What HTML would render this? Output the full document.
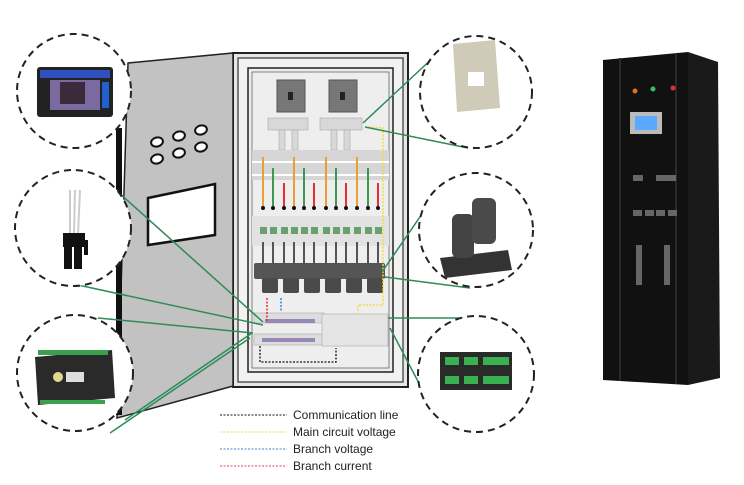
<!DOCTYPE html>
<html><head><meta charset="utf-8"><style>
html,body{margin:0;padding:0;background:#fff;}
svg{display:block;}
text{font-family:"Liberation Sans",sans-serif;font-size:12px;fill:#222;}
</style></head><body>
<svg width="744" height="485" viewBox="0 0 744 485" xmlns="http://www.w3.org/2000/svg">
<rect width="744" height="485" fill="#fff"/>
<!-- Cabinet body -->
<rect x="233" y="53" width="175" height="334" fill="#e6e6e6" stroke="#222" stroke-width="2"/>
<rect x="238" y="58" width="165" height="324" fill="#f2f2f2" stroke="#333" stroke-width="1.2"/>
<rect x="248" y="68" width="145" height="304" fill="#ececec" stroke="#222" stroke-width="1.5"/>
<rect x="252" y="72" width="137" height="296" fill="#eeeeee" stroke="#666" stroke-width="0.8"/>
<!-- door -->
<polygon points="128,63 233,53 233,386 117,418" fill="#c2c2c2" stroke="#222" stroke-width="1.5"/>
<rect x="116" y="128" width="6" height="92" fill="#111"/>
<rect x="116" y="260" width="6" height="155" fill="#111"/>
<g fill="#fff" stroke="#111" stroke-width="2">
<ellipse cx="157" cy="142" rx="6" ry="4.5" transform="rotate(-15 157 142)"/>
<ellipse cx="179" cy="136" rx="6" ry="4.5" transform="rotate(-15 179 136)"/>
<ellipse cx="201" cy="130" rx="6" ry="4.5" transform="rotate(-15 201 130)"/>
<ellipse cx="157" cy="159" rx="6" ry="4.5" transform="rotate(-15 157 159)"/>
<ellipse cx="179" cy="153" rx="6" ry="4.5" transform="rotate(-15 179 153)"/>
<ellipse cx="201" cy="147" rx="6" ry="4.5" transform="rotate(-15 201 147)"/>
</g>
<polygon points="148,198 215,184 215,235 148,245" fill="#fff" stroke="#111" stroke-width="2.5"/>
<!-- meters -->
<rect x="277" y="80" width="28" height="32" fill="#777" stroke="#555"/>
<rect x="288" y="92" width="5" height="8" fill="#222"/>
<rect x="329" y="80" width="28" height="32" fill="#777" stroke="#555"/>
<rect x="340" y="92" width="5" height="8" fill="#222"/>
<g fill="#d8d8d8" stroke="#aaa" stroke-width="0.6">
<rect x="268" y="118" width="40" height="12"/><rect x="320" y="118" width="42" height="12"/>
<rect x="279" y="130" width="6" height="20"/><rect x="292" y="130" width="6" height="20"/>
<rect x="331" y="130" width="6" height="20"/><rect x="344" y="130" width="6" height="20"/>
</g>
<!-- busbar band -->
<rect x="252" y="150" width="137" height="30" fill="#d6d6d6"/>
<rect x="252" y="161" width="137" height="2" fill="#fff"/>
<rect x="252" y="174" width="137" height="2" fill="#fff"/>
<!-- wires -->
<g stroke-width="2">
<line x1="263" y1="157" x2="263" y2="208" stroke="#e8a030"/>
<line x1="273" y1="168" x2="273" y2="208" stroke="#3a9a50"/>
<line x1="284" y1="183" x2="284" y2="208" stroke="#e03030"/>
<line x1="294" y1="157" x2="294" y2="208" stroke="#e8a030"/>
<line x1="304" y1="168" x2="304" y2="208" stroke="#3a9a50"/>
<line x1="314" y1="183" x2="314" y2="208" stroke="#e03030"/>
<line x1="326" y1="157" x2="326" y2="208" stroke="#e8a030"/>
<line x1="336" y1="168" x2="336" y2="208" stroke="#3a9a50"/>
<line x1="346" y1="183" x2="346" y2="208" stroke="#e03030"/>
<line x1="357" y1="157" x2="357" y2="208" stroke="#e8a030"/>
<line x1="368" y1="168" x2="368" y2="208" stroke="#3a9a50"/>
<line x1="378" y1="183" x2="378" y2="208" stroke="#e03030"/>
</g>
<g fill="#111">
<circle cx="263" cy="208" r="2"/><circle cx="273" cy="208" r="2"/><circle cx="284" cy="208" r="2"/><circle cx="294" cy="208" r="2"/><circle cx="304" cy="208" r="2"/><circle cx="314" cy="208" r="2"/><circle cx="326" cy="208" r="2"/><circle cx="336" cy="208" r="2"/><circle cx="346" cy="208" r="2"/><circle cx="357" cy="208" r="2"/><circle cx="368" cy="208" r="2"/><circle cx="378" cy="208" r="2"/>
</g>
<!-- breakers -->
<rect x="252" y="216" width="137" height="30" fill="#e2e2e2"/>
<g fill="#6aa070">
<rect x="260" y="227" width="7" height="7"/><rect x="270" y="227" width="7" height="7"/><rect x="281" y="227" width="7" height="7"/><rect x="291" y="227" width="7" height="7"/><rect x="301" y="227" width="7" height="7"/><rect x="311" y="227" width="7" height="7"/><rect x="323" y="227" width="7" height="7"/><rect x="333" y="227" width="7" height="7"/><rect x="343" y="227" width="7" height="7"/><rect x="354" y="227" width="7" height="7"/><rect x="365" y="227" width="7" height="7"/><rect x="375" y="227" width="7" height="7"/>
</g>
<g stroke="#222" stroke-width="1.5">
<line x1="263" y1="242" x2="263" y2="264"/><line x1="273" y1="242" x2="273" y2="264"/><line x1="284" y1="242" x2="284" y2="264"/><line x1="294" y1="242" x2="294" y2="264"/><line x1="304" y1="242" x2="304" y2="264"/><line x1="314" y1="242" x2="314" y2="264"/><line x1="326" y1="242" x2="326" y2="264"/><line x1="336" y1="242" x2="336" y2="264"/><line x1="346" y1="242" x2="346" y2="264"/><line x1="357" y1="242" x2="357" y2="264"/><line x1="368" y1="242" x2="368" y2="264"/><line x1="378" y1="242" x2="378" y2="264"/>
</g>
<!-- CT band -->
<rect x="254" y="263" width="131" height="16" rx="2" fill="#555"/>
<g fill="#4a4a4a">
<rect x="262" y="278" width="16" height="15" rx="2"/><rect x="283" y="278" width="16" height="15" rx="2"/><rect x="304" y="278" width="16" height="15" rx="2"/><rect x="325" y="278" width="16" height="15" rx="2"/><rect x="346" y="278" width="16" height="15" rx="2"/><rect x="367" y="278" width="16" height="15" rx="2"/>
</g>
<!-- modules -->
<rect x="254" y="313" width="70" height="10" fill="#ddd" stroke="#aaa" stroke-width="0.6"/>
<rect x="265" y="319" width="50" height="4" fill="#9888b8"/>
<rect x="254" y="334" width="70" height="11" fill="#ddd" stroke="#aaa" stroke-width="0.6"/>
<rect x="262" y="338" width="53" height="4" fill="#9888b8"/>
<rect x="322" y="314" width="66" height="32" fill="#e4e4e4" stroke="#aaa" stroke-width="0.6"/>
<!-- dotted signals -->
<polyline points="260,346 260,362 336,362 336,348" fill="none" stroke="#111" stroke-width="1.3" stroke-dasharray="2,1.5"/>
<line x1="267" y1="298" x2="267" y2="322" stroke="#e03030" stroke-width="1.5" stroke-dasharray="2,1.5"/>
<line x1="281" y1="298" x2="281" y2="312" stroke="#3a80d0" stroke-width="1.5" stroke-dasharray="2,1.5"/>
<polyline points="365,127 383,128 383,305 358,305 358,313" fill="none" stroke="#e8e040" stroke-width="1.5" stroke-dasharray="2,1.5"/>
<!-- green connectors -->
<g stroke="#2e8b57" stroke-width="1.5" fill="none">
<line x1="118" y1="192" x2="263" y2="322"/>
<line x1="78" y1="285" x2="263" y2="325"/>
<line x1="98" y1="318" x2="253" y2="333"/>
<line x1="110" y1="433" x2="250" y2="338"/>
<line x1="125" y1="420" x2="252" y2="333"/>
<line x1="436" y1="55" x2="363" y2="123"/>
<line x1="468" y1="148" x2="365" y2="127"/>
<line x1="433" y1="198" x2="382" y2="272"/>
<line x1="470" y1="288" x2="385" y2="277"/>
<line x1="482" y1="318" x2="388" y2="318"/>
<line x1="433" y1="410" x2="390" y2="328"/>
</g>
<!-- dashed circles -->
<g fill="#fff" stroke="#222" stroke-width="2" stroke-dasharray="7,5">
<circle cx="74" cy="91" r="57"/>
<circle cx="73" cy="228" r="58"/>
<circle cx="75" cy="373" r="58"/>
<circle cx="476" cy="92" r="56"/>
<circle cx="476" cy="230" r="57"/>
<circle cx="476" cy="374" r="58"/>
</g>
<!-- circle contents -->
<rect x="37" y="67" width="76" height="50" rx="3" fill="#222"/>
<rect x="40" y="70" width="70" height="8" fill="#3050c0"/>
<rect x="50" y="80" width="50" height="30" fill="#7a6aa0"/>
<rect x="60" y="82" width="25" height="22" fill="#3a2a3a"/>
<rect x="102" y="82" width="7" height="26" fill="#2060d0"/>
<path d="M70 190 L70 235 M75 190 L74 235 M80 190 L78 235" stroke="#ccc" stroke-width="2"/>
<rect x="63" y="233" width="22" height="14" fill="#111"/>
<rect x="64" y="247" width="8" height="22" fill="#111"/><rect x="74" y="247" width="8" height="22" fill="#111"/>
<rect x="84" y="240" width="4" height="15" fill="#111"/>
<polygon points="35,357 112,350 115,398 38,405" fill="#2a2a2a"/>
<rect x="38" y="350" width="70" height="5" fill="#3aa050"/>
<rect x="40" y="400" width="65" height="4" fill="#3aa050"/>
<circle cx="58" cy="377" r="5" fill="#e0d890"/>
<rect x="66" y="372" width="18" height="10" fill="#ddd"/>
<polygon points="453,44 495,40 500,108 457,112" fill="#cfcbb8"/>
<polygon points="468,72 484,72 484,86 468,86" fill="#fff"/>
<path d="M440 258 L508 250 L512 270 L445 278 Z" fill="#333"/>
<rect x="452" y="214" width="22" height="44" rx="6" fill="#444"/>
<rect x="472" y="198" width="24" height="46" rx="6" fill="#4a4a4a"/>
<rect x="440" y="352" width="72" height="38" fill="#2a2a2a"/>
<g fill="#3ab050"><rect x="445" y="357" width="14" height="8"/><rect x="464" y="357" width="14" height="8"/><rect x="483" y="357" width="26" height="8"/><rect x="445" y="376" width="14" height="8"/><rect x="464" y="376" width="14" height="8"/><rect x="483" y="376" width="26" height="8"/></g>
<!-- right dark cabinet -->
<polygon points="688,52 718,62 720,378 688,385" fill="#1a1a1a"/>
<polygon points="603,60 688,52 688,385 603,380" fill="#111"/>
<line x1="620" y1="58" x2="620" y2="381" stroke="#2a2a2a" stroke-width="2"/>
<line x1="676" y1="54" x2="676" y2="384" stroke="#2a2a2a" stroke-width="2"/>
<circle cx="635" cy="91" r="2.5" fill="#e07020"/><circle cx="653" cy="89" r="2.5" fill="#30c070"/><circle cx="673" cy="88" r="2.5" fill="#e03030"/>
<rect x="630" y="112" width="32" height="22" fill="#bbb"/>
<rect x="635" y="116" width="22" height="14" fill="#5aa8ff"/>
<g fill="#666">
<rect x="633" y="175" width="10" height="6"/><rect x="656" y="175" width="20" height="6"/>
<rect x="633" y="210" width="9" height="6"/><rect x="645" y="210" width="9" height="6"/><rect x="656" y="210" width="9" height="6"/><rect x="668" y="210" width="9" height="6"/>
<rect x="636" y="245" width="6" height="40"/><rect x="664" y="245" width="6" height="40"/>
</g>
<!-- legend -->
<g stroke-width="1" stroke-dasharray="2,1.5">
<line x1="220" y1="415" x2="287" y2="415" stroke="#111"/>
<line x1="220" y1="432" x2="287" y2="432" stroke="#e8e040"/>
<line x1="220" y1="449" x2="287" y2="449" stroke="#3a80d0"/>
<line x1="220" y1="466" x2="287" y2="466" stroke="#e04060"/>
</g>
<text x="293" y="419">Communication line</text>
<text x="293" y="436">Main circuit voltage</text>
<text x="293" y="453">Branch voltage</text>
<text x="293" y="470">Branch current</text>
</svg>
</body></html>
